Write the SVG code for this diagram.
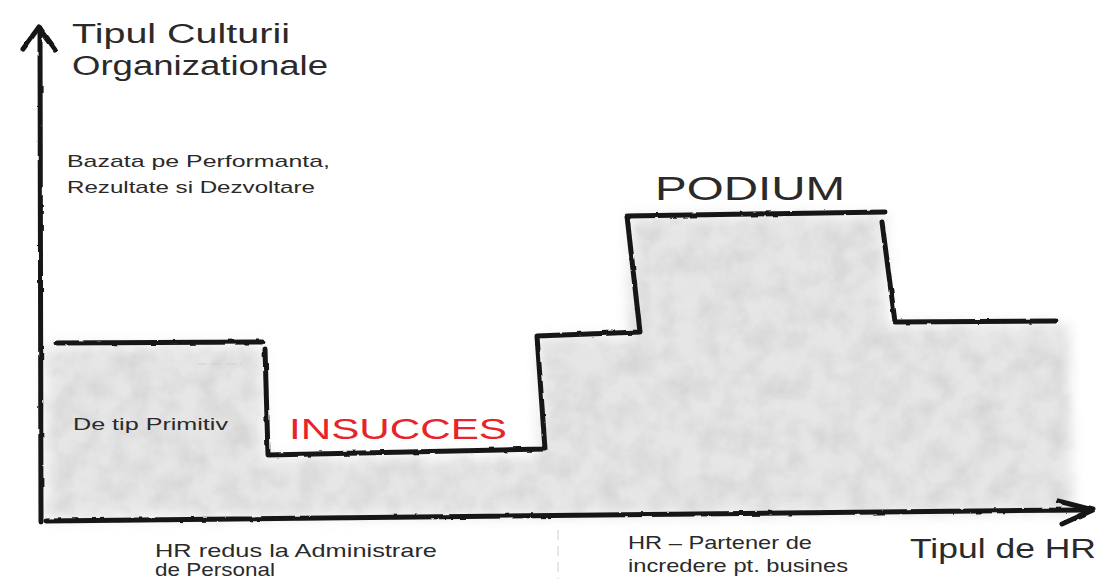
<svg xmlns="http://www.w3.org/2000/svg" width="1100" height="579" viewBox="0 0 1100 579">
  <style>
    .ink { fill: none; stroke: #161616; stroke-width: 5; stroke-linecap: round; stroke-linejoin: round; }
    .lbl { font-family: "Liberation Sans", "DejaVu Sans", sans-serif; fill: #2a2a2a; }
  </style>
  <defs>
    <filter id="shade" x="-3%" y="-10%" width="106%" height="120%">
      <feTurbulence type="fractalNoise" baseFrequency="0.04" numOctaves="4" seed="7" result="n"/>
      <feColorMatrix in="n" type="matrix" values="0 0 0 0 0.55  0 0 0 0 0.55  0 0 0 0 0.55  0 0 0 0.9 -0.3" result="ng"/>
      <feGaussianBlur in="SourceGraphic" stdDeviation="7" result="b"/>
      <feComposite in="ng" in2="b" operator="in" result="t"/>
      <feMerge><feMergeNode in="b"/><feMergeNode in="t"/></feMerge>
    </filter>
    <filter id="rough" x="-2%" y="-2%" width="104%" height="104%">
      <feTurbulence type="fractalNoise" baseFrequency="0.08" numOctaves="2" seed="2" result="r"/>
      <feDisplacementMap in="SourceGraphic" in2="r" scale="2.5" xChannelSelector="R" yChannelSelector="G"/>
    </filter>
  </defs>
  <rect width="1100" height="579" fill="#ffffff"/>

  <g id="shading">
    <polygon filter="url(#shade)" fill="#e6e6e6" points="46,346 262,346 262,458 540,458 540,338 630,338 630,216 885,216 885,325 1068,325 1072,512 46,518"/>
  </g>

  <g id="axes" filter="url(#rough)">
    <path class="ink" d="M40,28 L41,522" stroke-width="6"/>
    <path class="ink" d="M23,49 L39,27 L55,49" stroke-width="6"/>
    <path class="ink" d="M46,521 C300,518 700,513 1088,510" stroke-width="5"/>
    <path class="ink" d="M1058,501 L1093,510 L1062,524" stroke-width="6"/>
  </g>

  <g id="step-line" filter="url(#rough)">
    <path class="ink" d="M57,343 L262,342" stroke-width="7"/>
    <path class="ink" d="M265,349 L268,455 L545,449 L537,336 L640,332 L627,216 L885,212"/>
    <path class="ink" d="M882,222 L895,322 L1056,321"/>
  </g>

  <g id="artifact">
    <line x1="198" y1="364" x2="242" y2="364" stroke="#cfcfcf" stroke-width="1" stroke-dasharray="9,5"/>
    <line x1="558" y1="530" x2="558" y2="579" stroke="#cccccc" stroke-width="1" stroke-dasharray="10,6"/>
  </g>

  <g id="y-axis-title">
    <text class="lbl" x="72" y="43" font-size="27" textLength="218" lengthAdjust="spacingAndGlyphs">Tipul Culturii</text>
    <text class="lbl" x="72" y="75" font-size="27" textLength="256" lengthAdjust="spacingAndGlyphs">Organizationale</text>
  </g>
  <g id="label-top">
    <text class="lbl" x="67" y="167" font-size="17" textLength="263" lengthAdjust="spacingAndGlyphs">Bazata pe  Performanta,</text>
    <text class="lbl" x="67" y="193" font-size="17" textLength="248" lengthAdjust="spacingAndGlyphs">Rezultate si Dezvoltare</text>
  </g>
  <g id="label-primitiv">
    <text class="lbl" x="73" y="430" font-size="16" textLength="155" lengthAdjust="spacingAndGlyphs">De tip Primitiv</text>
  </g>
  <g id="label-insucces">
    <text x="289" y="439" font-size="30" font-family="Liberation Sans, DejaVu Sans, sans-serif" fill="#e8232a" textLength="218" lengthAdjust="spacingAndGlyphs">INSUCCES</text>
  </g>
  <g id="label-podium">
    <text class="lbl" x="655" y="200" font-size="33" fill="#1a1a1a" textLength="190" lengthAdjust="spacingAndGlyphs">PODIUM</text>
  </g>
  <g id="label-hr-admin">
    <text class="lbl" x="155" y="557" font-size="19" textLength="282" lengthAdjust="spacingAndGlyphs">HR redus la Administrare</text>
    <text class="lbl" x="155" y="576" font-size="19" textLength="120" lengthAdjust="spacingAndGlyphs">de Personal</text>
  </g>
  <g id="label-hr-partner">
    <text class="lbl" x="628" y="549" font-size="19" textLength="184" lengthAdjust="spacingAndGlyphs">HR – Partener de</text>
    <text class="lbl" x="628" y="572" font-size="19" textLength="220" lengthAdjust="spacingAndGlyphs">incredere pt. busines</text>
  </g>
  <g id="x-axis-title">
    <text class="lbl" x="910" y="558" font-size="27" fill="#1a1a1a" textLength="186" lengthAdjust="spacingAndGlyphs">Tipul de HR</text>
  </g>
</svg>
